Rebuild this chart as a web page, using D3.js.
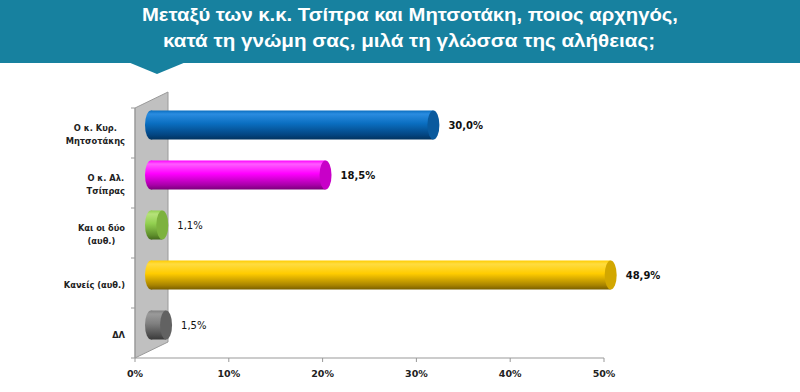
<!DOCTYPE html>
<html><head><meta charset="utf-8">
<script src="https://cdn.jsdelivr.net/npm/d3@7"></script>
<style>body{margin:0;background:#fff}svg{display:block}</style>
</head><body>
<script>
const categories = [["Ο κ. Κυρ.","Μητσοτάκης"],["Ο κ. Αλ.","Τσίπρας"],["Και οι δύο","(αυθ.)"],["Κανείς (αυθ.)"],["ΔΛ"]];
const values = [30.0, 18.5, 1.1, 48.9, 1.5];
const valueLabels = ["30,0%","18,5%","1,1%","48,9%","1,5%"];
const tickValues = [0,10,20,30,40,50];
const tickLabels = ["0%","10%","20%","30%","40%","50%"];
const titleLines = ["Μεταξύ των κ.κ. Τσίπρα και Μητσοτάκη, ποιος αρχηγός,","κατά τη γνώμη σας, μιλά τη γλώσσα της αλήθειας;"];
const palette = [
  {light:"#2a8ce0", base:"#0a6ec0", dark:"#034480", darker:"#02335f", cap:"#0a5a9e"},
  {light:"#ff5cff", base:"#ff00ff", dark:"#a800a8", darker:"#7a007a", cap:"#c800c8"},
  {light:"#b6e27a", base:"#92d050", dark:"#5f8f2c", darker:"#456a1e", cap:"#7db23e"},
  {light:"#ffdc40", base:"#ffcc00", dark:"#a98400", darker:"#7a5f00", cap:"#d2a700"},
  {light:"#9a9a9a", base:"#808080", dark:"#4e4e4e", darker:"#3a3a3a", cap:"#626262"}
];

const W=800,H=392;
const svg=d3.select("body").append("svg").attr("width",W).attr("height",H);
const defs=svg.append("defs");

// header
svg.append("rect").attr("x",0).attr("y",0).attr("width",W).attr("height",63).attr("fill","#17819f");
svg.append("path").attr("d","M128,62 L186,62 L157,74 Z").attr("fill","#17819f");
const titleX=[[142,536],[163,492]];
titleLines.forEach((t,i)=>{
  svg.append("text").attr("x",titleX[i][0]).attr("y",21+i*26)
    .attr("textLength",titleX[i][1]).attr("lengthAdjust","spacingAndGlyphs")
    .attr("font-family","'Liberation Sans Narrow','Liberation Sans',Arial,sans-serif")
    .attr("font-weight","bold").attr("font-size",18).attr("fill","#fff").text(t);
});

const x=d3.scaleLinear().domain([0,50]).range([135,604]);
const y=d3.scaleBand().domain(d3.range(categories.length)).range([108,358]).paddingInner(0.42).paddingOuter(0.21);
const dx=16, dy=-8, depthX=33, depthY=-16;

// back wall
svg.append("path")
  .attr("d",`M${x(0)},108 L${x(0)+depthX},${108+depthY} L${x(0)+depthX},${358+depthY} L${x(0)},358 Z`)
  .attr("fill","#c0c0c0").attr("stroke","#9a9a9a").attr("stroke-width",1);

// axes
const axisColor="#999";
svg.append("line").attr("x1",x(0)).attr("x2",x(50)).attr("y1",358).attr("y2",358).attr("stroke",axisColor);
svg.append("line").attr("x1",x(0)).attr("x2",x(0)).attr("y1",108).attr("y2",358).attr("stroke",axisColor);
tickValues.forEach((v,i)=>{
  svg.append("line").attr("x1",x(v)).attr("x2",x(v)).attr("y1",358).attr("y2",362).attr("stroke",axisColor);
  svg.append("text").attr("x",x(v)).attr("y",377).attr("text-anchor","middle")
    .attr("font-family","'DejaVu Sans',sans-serif").attr("font-weight","bold").attr("font-size",9.5).attr("fill","#222").text(tickLabels[i]);
});
const step=y.step();
d3.range(categories.length+1).forEach(i=>{
  const yy=108+i*step;
  svg.append("line").attr("x1",x(0)-4).attr("x2",x(0)).attr("y1",yy).attr("y2",yy).attr("stroke",axisColor);
});

// category labels
categories.forEach((lines,i)=>{
  const cy=y(i)+y.bandwidth()/2+1;
  const g=svg.append("g");
  const texts=lines.map((l,j)=>g.append("text").attr("y",cy+(j-(lines.length-1)/2)*13+3.5)
    .attr("font-family","'DejaVu Sans',sans-serif").attr("font-weight","bold").attr("font-size",8.3).attr("fill","#222")
    .attr("text-anchor","middle").text(l));
  const wmax=d3.max(texts,t=>t.node().getComputedTextLength());
  texts.forEach(t=>t.attr("x",125-wmax/2));
});

// bars (cylinders)
values.forEach((v,i)=>{
  const p=palette[i];
  const gid="g"+i;
  const gr=defs.append("linearGradient").attr("id",gid).attr("x1",0).attr("y1",0).attr("x2",0).attr("y2",1);
  [[0,p.base],[0.12,p.light],[0.45,p.base],[0.85,p.dark],[1,p.darker]].forEach(s=>gr.append("stop").attr("offset",s[0]).attr("stop-color",s[1]));
  const h=y.bandwidth(), top=y(i)+dy, cy=top+h/2, rx=6;
  const x0=x(0)+dx, x1=x(v)+dx+1;
  const g=svg.append("g");
  g.append("ellipse").attr("cx",x0).attr("cy",cy).attr("rx",rx).attr("ry",h/2).attr("fill",`url(#${gid})`);
  g.append("rect").attr("x",x0).attr("y",top).attr("width",Math.max(0,x1-x0)).attr("height",h).attr("fill",`url(#${gid})`);
  g.append("ellipse").attr("cx",x1).attr("cy",cy).attr("rx",rx).attr("ry",h/2).attr("fill",p.cap);
  svg.append("text").attr("x",x1+rx+9).attr("y",cy+4)
    .attr("font-family","'DejaVu Sans',sans-serif").attr("font-weight",v<5?"normal":"bold").attr("font-size",10).attr("fill","#111")
    .text(valueLabels[i]);
});
</script>
</body></html>
